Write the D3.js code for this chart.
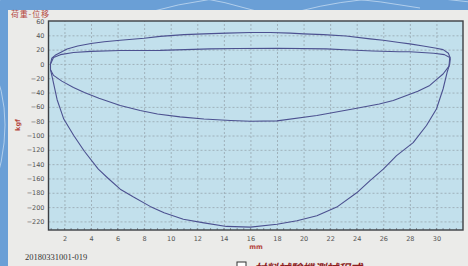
<!DOCTYPE html>
<html>
<head>
<meta charset="utf-8">
<style>
    body { margin: 0; background: #6a9fd6; }
    svg { display: block; }
    .grid line { stroke: #97a6ae; stroke-dasharray: 2,2; stroke-width: 0.8; }
    .grid .domain { display: none; }
    .axis text { font-family: 'DejaVu Sans', Arial, sans-serif; font-size: 6.5px; fill: #555; }
    .axis .domain { display: none; }
    .axis line { display: none; }
</style>
</head>
<body>
<svg width="468" height="266"></svg>
<script src="https://d3js.org/d3.v7.min.js"></script>
<script>
    let width = 468
    let height = 266

    // displacement (mm) / load (kgf)
    let outerUpX = [0.95, 1.05, 1.3, 1.7, 2.2, 3, 4, 5, 6.2, 8, 9.2, 11, 12.5, 14.2, 16, 17.5, 19, 20, 21.5, 23.2, 25, 26, 27.2, 28, 29, 30, 30.5, 30.9, 31.05]
    let outerUpY = [0, 8, 12, 16, 21, 25, 28.5, 31, 33, 36, 38.5, 41, 42, 43, 44, 44, 43, 42, 41, 39, 35, 33, 30, 28, 25, 22, 20, 15, 8]

    let outerLowX = [31.05, 31.0, 30.8, 30.5, 30, 29.25, 28.25, 27, 26, 25, 24, 22.5, 21, 19.5, 18, 16, 14.2, 12.5, 10.95, 9.5, 8.45, 7.2, 6.2, 5.3, 4.55, 3.5, 2.7, 1.95, 1.45, 1.1, 0.95, 0.95]
    let outerLowY = [8, 0, -12, -35, -63, -86, -110, -128, -147, -163, -180, -200, -212, -219, -224, -228, -227, -222, -217, -208, -199, -186, -175, -160, -147, -122, -100, -77, -50, -20, -8, 0]

    let innerUpX = [0.95, 1.18, 1.7, 2.68, 4, 6.2, 9.2, 12.95, 15, 18, 21.7, 23.5, 25.2, 27.2, 28, 29.8, 30.6, 31.0]
    let innerUpY = [0, 9, 13, 16, 17.5, 18.7, 19, 21, 21.5, 22, 21, 19.5, 18, 17, 17, 15, 13, 9]

    let innerLowX = [31.0, 30.95, 30.5, 30, 29.5, 28.6, 27.75, 26.75, 25.7, 23.7, 21, 18, 16, 14.5, 12.5, 10.7, 9, 7.7, 6.2, 4.6, 3.5, 2.68, 1.8, 1.18, 0.95]
    let innerLowY = [9, -3, -14, -22, -30, -38, -44, -51, -56, -63, -72, -79.5, -80, -79, -77, -74, -70, -65, -58, -48, -40, -33, -24, -16, -8]

    let xTicks = d3.range(2, 31, 2)
    let yTicks = d3.range(-220, 61, 20)

    let svg = d3.select("svg")

    let margin = {top: 21, right: 5, bottom: 36, left: 48.5}

    let x = d3.scaleLinear()
        .domain([0.8, 32])
        .range([margin.left, width - margin.right])

    let y = d3.scaleLinear()
        .domain([-232, 60])
        .range([height - margin.bottom, margin.top])

    // backdrop: blue desktop with a few white swooshes
    let bg = svg.append("g")
    bg.append("rect").attr("width", width).attr("height", height).attr("fill", "#6a9fd6")
    let swoosh = [[-20, 4, 120, -30, 260, 12], [150, 12, 260, -20, 420, 8], [300, 11, 380, -10, 470, 2], [-10, 60, 20, 120, -10, 200]]
    swoosh.forEach(s => {
        let p = d3.path()
        p.moveTo(s[0], s[1])
        p.quadraticCurveTo(s[2], s[3], s[4], s[5])
        bg.append("path").attr("d", p.toString())
            .attr("fill", "none").attr("stroke", "#e8f2fb").attr("stroke-width", 0.8).attr("opacity", 0.7)
    })

    // window panel
    svg.append("rect")
        .attr("x", 8).attr("y", 10)
        .attr("width", width - 8).attr("height", height - 10)
        .attr("fill", "#ebebe9")

    // plot area
    svg.append("rect")
        .attr("x", x.range()[0]).attr("y", y.range()[1])
        .attr("width", x.range()[1] - x.range()[0])
        .attr("height", y.range()[0] - y.range()[1])
        .attr("fill", "#c2e0ec")

    svg.append("g")
        .attr("class", "grid")
        .attr("transform", `translate(0, ${height - margin.bottom})`)
        .call(d3.axisBottom(x).tickValues(xTicks).tickSize(-(y.range()[0] - y.range()[1])).tickFormat(""))

    svg.append("g")
        .attr("class", "grid")
        .attr("transform", `translate(${margin.left}, 0)`)
        .call(d3.axisLeft(y).tickValues(yTicks.filter(d => d < 60)).tickSize(-(x.range()[1] - x.range()[0])).tickFormat(""))

    // minor ticks along the bottom
    svg.append("g")
        .selectAll("line")
        .data(d3.range(1, 32, 0.5))
        .join("line")
        .attr("x1", d => x(d)).attr("x2", d => x(d))
        .attr("y1", y.range()[0]).attr("y2", y.range()[0] - 2)
        .attr("stroke", "#556")
        .attr("stroke-width", 0.6)

    svg.append("g")
        .attr("class", "axis")
        .attr("transform", `translate(0, ${height - margin.bottom})`)
        .call(d3.axisBottom(x).tickValues(xTicks).tickSize(0).tickPadding(6))

    svg.append("g")
        .attr("class", "axis")
        .attr("transform", `translate(${margin.left}, 0)`)
        .call(d3.axisLeft(y).tickValues(yTicks).tickSize(0).tickPadding(4))

    let line = d3.line()
        .x(d => x(d[0]))
        .y(d => y(d[1]))

    let segments = [
        [outerUpX, outerUpY],
        [outerLowX, outerLowY],
        [innerUpX, innerUpY],
        [innerLowX, innerLowY]
    ]

    svg.append("g")
        .selectAll("path")
        .data(segments)
        .join("path")
        .attr("d", s => line(d3.zip(s[0], s[1])))
        .attr("fill", "none")
        .attr("stroke", "#4c5190")
        .attr("stroke-width", 1.1)
        .attr("stroke-linejoin", "round")

    // frame
    svg.append("rect")
        .attr("x", x.range()[0]).attr("y", y.range()[1])
        .attr("width", x.range()[1] - x.range()[0])
        .attr("height", y.range()[0] - y.range()[1])
        .attr("fill", "none")
        .attr("stroke", "#3c3f44")
        .attr("stroke-width", 1.4)

    svg.append("text")
        .attr("x", 11).attr("y", 16.5)
        .text("荷重-位移")
        .style("font-family", "'Noto Sans CJK TC', sans-serif")
        .style("font-size", "8px")
        .style("letter-spacing", "0.8px")
        .style("fill", "#b5473f")

    svg.append("text")
        .attr("transform", "translate(20, 125) rotate(-90)")
        .attr("text-anchor", "middle")
        .text("kgf")
        .style("font-family", "'DejaVu Sans', sans-serif")
        .style("font-size", "6.5px")
        .style("font-weight", "bold")
        .style("fill", "#b5473f")

    svg.append("text")
        .attr("x", 256).attr("y", 249)
        .attr("text-anchor", "middle")
        .text("mm")
        .style("font-family", "'DejaVu Sans', sans-serif")
        .style("font-size", "6.5px")
        .style("font-weight", "bold")
        .style("fill", "#b5473f")

    svg.append("text")
        .attr("x", 25).attr("y", 260)
        .text("20180331001-019")
        .style("font-family", "'Liberation Serif', serif")
        .style("font-size", "8.5px")
        .style("fill", "#333")

    svg.append("rect")
        .attr("x", 237).attr("y", 262)
        .attr("width", 9).attr("height", 9)
        .attr("fill", "#fff")
        .attr("stroke", "#333")
        .attr("stroke-width", 1)

    // window caption, cut by the bottom edge as in the screenshot
    svg.append("text")
        .attr("x", 254).attr("y", 273)
        .text("材料試驗機測試程式")
        .style("font-family", "'Noto Sans CJK TC', sans-serif")
        .style("font-size", "12px")
        .style("font-style", "italic")
        .style("font-weight", "bold")
        .style("fill", "#8e1f1f")
</script>
</body>
</html>
